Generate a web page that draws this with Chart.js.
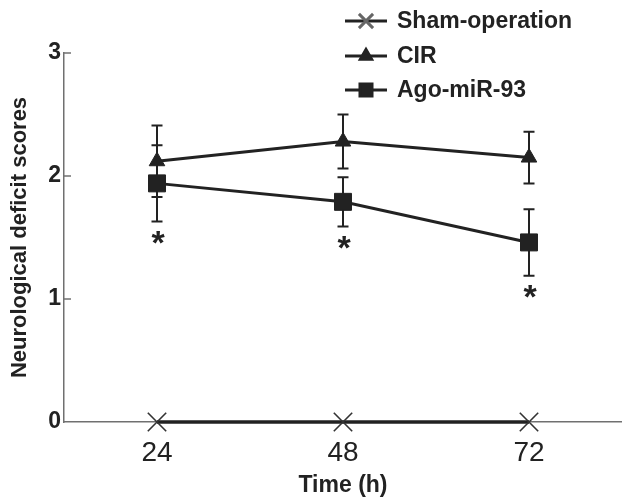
<!DOCTYPE html>
<html><head><meta charset="utf-8">
<script src="https://cdn.jsdelivr.net/npm/chart.js@4.4.1/dist/chart.umd.min.js"></script>
<style>html,body{margin:0;padding:0;background:#fff;}#wrap{width:622px;height:501px;position:relative;}</style>
</head><body><div id="wrap"><canvas id="c" width="622" height="501"></canvas></div>
<script>
// ---- data ----
const timeLabels = ['24', '48', '72'];
const yTickValues = [0, 1, 2, 3];
const seriesNames = ['Sham-operation', 'CIR', 'Ago-miR-93'];
const shamScores = [0, 0, 0];
const cirScores = [2.12, 2.28, 2.15];
const cirErrors = [0.29, 0.22, 0.21];
const agoScores = [1.94, 1.79, 1.46];
const agoErrors = [0.31, 0.20, 0.27];
const agoSignificant = [true, true, true];

const FONT = '"Liberation Sans", Arial, Helvetica, sans-serif';
const INK = '#222222';
const AXIS = '#707070';

const errorBarPlugin = {
  id: 'errorBars',
  beforeDatasetsDraw(chart) {
    const ctx = chart.ctx;
    const y = chart.scales.y;
    ctx.save();
    ctx.strokeStyle = INK;
    ctx.lineWidth = 2;
    chart.data.datasets.forEach((ds, di) => {
      if (!ds.errors) return;
      const meta = chart.getDatasetMeta(di);
      meta.data.forEach((el, i) => {
        const v = ds.data[i], e = ds.errors[i];
        const top = y.getPixelForValue(v + e), bot = y.getPixelForValue(v - e);
        const x = el.x;
        ctx.beginPath();
        ctx.moveTo(x, top); ctx.lineTo(x, bot);
        ctx.moveTo(x - 5.5, top); ctx.lineTo(x + 5.5, top);
        ctx.moveTo(x - 5.5, bot); ctx.lineTo(x + 5.5, bot);
        ctx.stroke();
      });
    });
    ctx.restore();
  },
  afterDatasetsDraw(chart) {
    const ctx = chart.ctx;
    const y = chart.scales.y;
    const meta = chart.getDatasetMeta(2);
    ctx.save();
    ctx.fillStyle = INK;
    ctx.font = 'bold 34px ' + FONT;
    ctx.textAlign = 'center';
    ctx.textBaseline = 'alphabetic';
    meta.data.forEach((el, i) => {
      if (!agoSignificant[i]) return;
      const py = y.getPixelForValue(agoScores[i] - agoErrors[i]) + 13;
      ctx.fillText('*', el.x + 1, py + 34 * 0.58);
    });
    ctx.restore();
  },
  afterDraw(chart) {
    const ctx = chart.ctx;
    const y = chart.scales.y;
    const left = chart.chartArea.left;
    ctx.save();
    ctx.strokeStyle = AXIS;
    ctx.lineWidth = 1.5;
    yTickValues.forEach(v => {
      if (v === 0) return;
      const py = y.getPixelForValue(v);
      ctx.beginPath();
      ctx.moveTo(left, py); ctx.lineTo(left + 7, py);
      ctx.stroke();
    });
    // legend
    const rows = [21, 56, 90];
    const styles = [
      {pointStyle: 'crossRot', radius: 10, borderWidth: 1.3},
      {pointStyle: 'triangle', radius: 6.5, borderWidth: 1},
      {pointStyle: 'rect', radius: 8.5, borderWidth: 1}
    ];
    ctx.font = 'bold 23px ' + FONT;
    ctx.textAlign = 'left';
    ctx.textBaseline = 'middle';
    rows.forEach((ry, i) => {
      ctx.strokeStyle = INK;
      ctx.lineWidth = 3;
      ctx.beginPath();
      ctx.moveTo(345, ry); ctx.lineTo(387, ry);
      ctx.stroke();
      ctx.fillStyle = INK;
      ctx.strokeStyle = i === 0 ? '#666' : INK;
      Chart.helpers.drawPoint(ctx, {pointStyle: styles[i].pointStyle, radius: styles[i].radius, borderWidth: styles[i].borderWidth, rotation: 0}, 366, ry);
      ctx.fillStyle = INK;
      ctx.fillText(seriesNames[i], 397, ry + 1);
    });
    ctx.restore();
  }
};

new Chart(document.getElementById('c'), {
  type: 'line',
  data: {
    labels: timeLabels,
    datasets: [
      {label: seriesNames[0], data: shamScores, borderColor: INK, borderWidth: 3.5,
       pointStyle: 'crossRot', pointRadius: 13, pointBorderWidth: 1.6, pointBorderColor: '#333',
       pointBackgroundColor: 'transparent', clip: false, tension: 0},
      {label: seriesNames[1], data: cirScores, errors: cirErrors, borderColor: INK, borderWidth: 3,
       pointStyle: 'triangle', pointRadius: 9, pointBorderWidth: 1, pointBorderColor: INK,
       pointBackgroundColor: INK, clip: false, tension: 0},
      {label: seriesNames[2], data: agoScores, errors: agoErrors, borderColor: INK, borderWidth: 3,
       pointStyle: 'rect', pointRadius: 12, pointBorderWidth: 1, pointBorderColor: INK,
       pointBackgroundColor: INK, clip: false, tension: 0}
    ]
  },
  options: {
    responsive: false,
    animation: false,
    layout: {autoPadding: false, padding: {top: 53, left: 0, right: 0, bottom: 0}},
    plugins: {legend: {display: false}, tooltip: {enabled: false}},
    scales: {
      x: {
        type: 'category',
        offset: true,
        grid: {display: false, drawTicks: false},
        border: {display: true, color: AXIS, width: 1.5},
        ticks: {color: INK, font: {family: FONT, size: 28}, padding: 14, maxRotation: 0},
        title: {display: true, text: 'Time (h)', color: INK, font: {family: FONT, size: 23, weight: 'bold'}, padding: {top: 0, bottom: 2}},
        afterFit(s) { s.height = 79; }
      },
      y: {
        min: 0, max: 3,
        grid: {display: false, drawTicks: false},
        border: {display: true, color: AXIS, width: 1.5},
        afterBuildTicks(s) { s.ticks = yTickValues.map(v => ({value: v})); },
        ticks: {color: INK, font: {family: FONT, size: 23, weight: 'bold'}, padding: 3},
        title: {display: true, text: 'Neurological deficit scores', color: INK, font: {family: FONT, size: 22, weight: 'bold'}, padding: {top: 7, bottom: 0}},
        afterFit(s) { s.width = 64; }
      }
    }
  },
  plugins: [errorBarPlugin]
});
</script></body></html>
